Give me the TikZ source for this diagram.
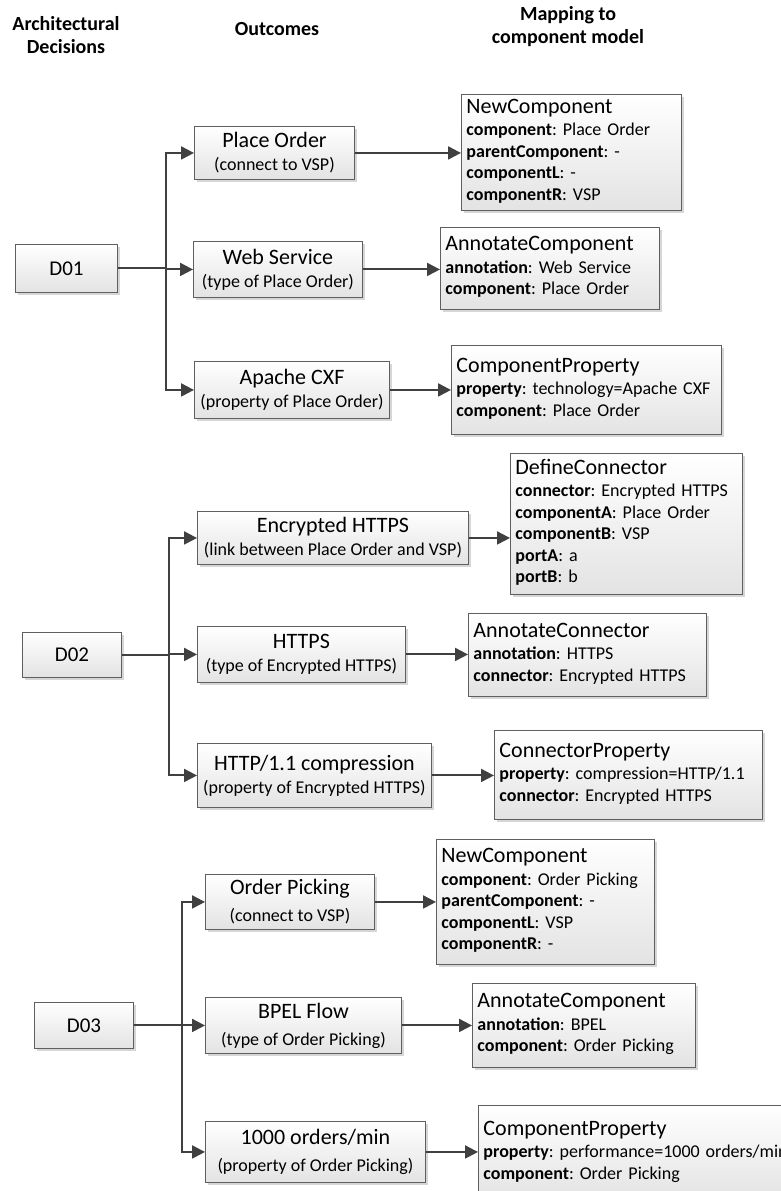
\documentclass[tikz,border=0pt]{standalone}
\usepackage{fontspec}
\setmainfont{Carlito}
\frenchspacing
\usetikzlibrary{arrows.meta,shadows}
\definecolor{linec}{HTML}{404040}
\definecolor{borderc}{HTML}{5F5F5F}
\newcommand\ttl[1]{{\fontsize{22}{24}\selectfont #1}}
\newcommand\bigline[1]{{\fontsize{22}{23}\selectfont #1}}
\tikzset{
 box/.style={draw=borderc, line width=0.9pt, top color=white, bottom color=black!11,
   drop shadow={shadow xshift=3pt, shadow yshift=-3pt, fill=black!16, opacity=1},
   inner sep=0pt, anchor=north west},
 dbox/.style={box, align=center, font=\frenchspacing\fontsize{21}{25}\selectfont},
 obox/.style={box, align=center, font=\frenchspacing\fontsize{18}{23}\selectfont},
 mbox/.style={box, align=left, inner xsep=5pt, font=\frenchspacing\fontsize{18}{21.5}\selectfont},
 conn/.style={draw=linec, line width=2pt, -{Triangle[length=13pt,width=13pt]}},
 plain/.style={draw=linec, line width=2pt},
 head/.style={align=center, font=\fontsize{20}{23}\bfseries\selectfont},
}
\begin{document}
\begin{tikzpicture}[x=1pt,y=-1pt]
\useasboundingbox (0,0) rectangle (781,1191);
\clip (0,0) rectangle (781,1191);
\fill[white] (0,0) rectangle (781,1191);
% headers
\node[head] (h1) at (66,35) {Architectural\\Decisions};
\node[head] (h2) at (277,29) {Outcomes};
\node[head] (h3) at (568,27) {Mapping to\\component model};
% decisions
\node[dbox, minimum width=102pt, minimum height=48pt] (d1) at (15,244) {D01};
\node[dbox, minimum width=99pt, minimum height=45pt] (d2) at (22,632) {D02};
\node[dbox, minimum width=99pt, minimum height=46pt] (d3) at (34,1002) {D03};
% outcomes
\node[obox, minimum width=160pt, minimum height=53pt] (o11) at (194,126) {\bigline{Place Order}\\(connect to VSP)};
\node[obox, minimum width=169pt, minimum height=56pt] (o12) at (193,241) {\bigline{Web Service}\\(type of Place Order)};
\node[obox, minimum width=195pt, minimum height=57pt] (o13) at (194,361) {\bigline{Apache CXF}\\(property of Place Order)};
\node[obox, minimum width=271pt, minimum height=53pt] (o21) at (197,511) {\bigline{Encrypted HTTPS}\\(link between Place Order and VSP)};
\node[obox, minimum width=208pt, minimum height=56pt] (o22) at (197,626) {\bigline{HTTPS}\\(type of Encrypted HTTPS)};
\node[obox, minimum width=234pt, minimum height=64pt] (o23) at (197,743) {\bigline{HTTP/1.1 compression}\\(property of Encrypted HTTPS)};
\node[obox, minimum width=169pt, minimum height=55pt] (o31) at (205,874) {\bigline{Order Picking}\\[4pt](connect to VSP)};
\node[obox, minimum width=196pt, minimum height=56pt] (o32) at (205,997) {\bigline{BPEL Flow}\\[4pt](type of Order Picking)};
\node[obox, minimum width=220pt, minimum height=61pt] (o33) at (205,1121) {\bigline{1000 orders/min}\\[4pt](property of Order Picking)};
% mappings
\node[mbox, text width=210pt, minimum height=116pt] (m11) at (461,94) {\begin{tabular}{@{}l@{}}\ttl{NewComponent}\\[1pt]\textbf{component}: Place Order\\\textbf{parentComponent}: -\\\textbf{componentL}: -\\\textbf{componentR}: VSP\end{tabular}};
\node[mbox, text width=209pt, minimum height=82pt] (m12) at (440,227) {\begin{tabular}{@{}l@{}}\ttl{AnnotateComponent}\\[1pt]\textbf{annotation}: Web Service\\\textbf{component}: Place Order\end{tabular}};
\node[mbox, text width=260pt, minimum height=89pt] (m13) at (451,345) {\begin{tabular}{@{}l@{}}\ttl{ComponentProperty}\\[1pt]\textbf{property}: technology=Apache CXF\\\textbf{component}: Place Order\end{tabular}};
\node[mbox, text width=222pt, minimum height=141pt] (m21) at (510,453) {\begin{tabular}{@{}l@{}}\ttl{DefineConnector}\\[1pt]\textbf{connector}: Encrypted HTTPS\\\textbf{componentA}: Place Order\\\textbf{componentB}: VSP\\\textbf{portA}: a\\\textbf{portB}: b\end{tabular}};
\node[mbox, text width=228pt, minimum height=83pt] (m22) at (468,613) {\begin{tabular}{@{}l@{}}\ttl{AnnotateConnector}\\[1pt]\textbf{annotation}: HTTPS\\\textbf{connector}: Encrypted HTTPS\end{tabular}};
\node[mbox, text width=258pt, minimum height=89pt] (m23) at (494,730) {\begin{tabular}{@{}l@{}}\ttl{ConnectorProperty}\\[1pt]\textbf{property}: compression=HTTP/1.1\\\textbf{connector}: Encrypted HTTPS\end{tabular}};
\node[mbox, text width=208pt, minimum height=125pt] (m31) at (436,839) {\begin{tabular}{@{}l@{}}\ttl{NewComponent}\\[1pt]\textbf{component}: Order Picking\\\textbf{parentComponent}: -\\\textbf{componentL}: VSP\\\textbf{componentR}: -\end{tabular}};
\node[mbox, text width=213pt, minimum height=84pt] (m32) at (472,983) {\begin{tabular}{@{}l@{}}\ttl{AnnotateComponent}\\[1pt]\textbf{annotation}: BPEL\\\textbf{component}: Order Picking\end{tabular}};
\node[mbox, text width=320pt, minimum height=95pt] (m33) at (478,1105) {\begin{tabular}{@{}l@{}}\ttl{ComponentProperty}\\[1pt]\textbf{property}: performance=1000 orders/min\\\textbf{component}: Order Picking\end{tabular}};
% junctions
\path (d1.east) ++(48,0) coordinate (j1);
\path (d2.east) ++(47,0) coordinate (j2);
\path (d3.east) ++(48,0) coordinate (j3);
% connectors D01
\draw[plain] (d1.east) -- (j1);
\draw[conn] (j1) |- (o11.west);
\draw[conn] (j1) |- (o12.west);
\draw[conn] (j1) |- (o13.west);
% D02
\draw[plain] (d2.east) -- (j2);
\draw[conn] (j2) |- (o21.west);
\draw[conn] (j2) |- (o22.west);
\draw[conn] (j2) |- (o23.west);
% D03
\draw[plain] (d3.east) -- (j3);
\draw[conn] (j3) |- (o31.west);
\draw[conn] (j3) |- (o32.west);
\draw[conn] (j3) |- (o33.west);
% outcome -> mapping
\draw[conn] (o11.east) -- (o11.east -| m11.west);
\draw[conn] (o12.east) -- (o12.east -| m12.west);
\draw[conn] (o13.east) -- (o13.east -| m13.west);
\draw[conn] (o21.east) -- (o21.east -| m21.west);
\draw[conn] (o22.east) -- (o22.east -| m22.west);
\draw[conn] (o23.east) -- (o23.east -| m23.west);
\draw[conn] (o31.east) -- (o31.east -| m31.west);
\draw[conn] (o32.east) -- (o32.east -| m32.west);
\draw[conn] (o33.east) -- (o33.east -| m33.west);
\end{tikzpicture}
\end{document}
